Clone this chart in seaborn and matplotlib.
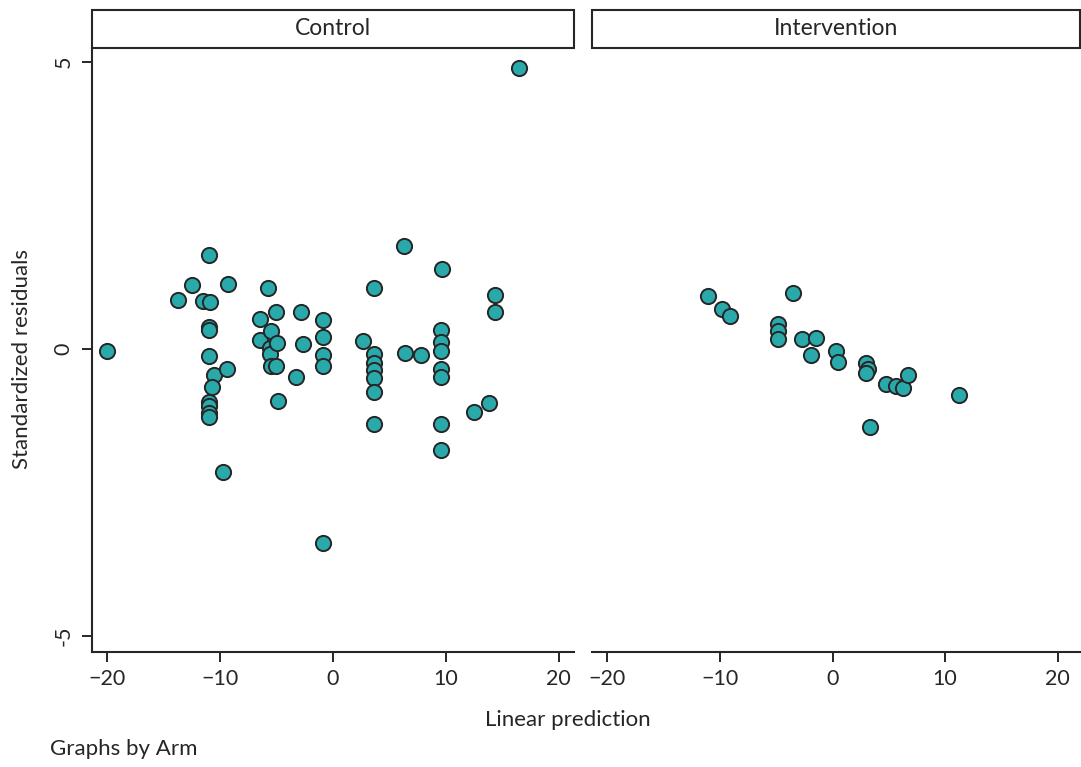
import matplotlib
matplotlib.use("Agg")
import matplotlib.pyplot as plt
from matplotlib.patches import Rectangle
import numpy as np
import pandas as pd
import seaborn as sns

# Linear predictions and standardized residuals, Control arm
control_pred = [
    -19.94, -13.69, -12.48, -10.95, -11.48, -10.88, -10.97, -10.97, -10.95, -10.53,
    -10.71, -10.95, -10.95, -10.95, -10.95, -9.38, -9.23, -9.73, -6.40, -5.75,
    -6.43, -5.49, -5.58, -5.58, -5.49, -4.98, -4.96, -4.98, -4.81, -3.25,
    -2.77, -2.65, -0.82, -0.82, -0.82, -0.82, -0.88, 2.68, 3.63, 3.63,
    3.63, 3.63, 3.63, 3.63, 3.63, 6.31, 6.40, 7.79, 9.65, 9.62,
    9.62, 9.62, 9.62, 9.62, 9.62, 9.62, 12.54, 13.87, 14.36, 14.36,
    16.46,
]
control_resid = [
    -0.04, 0.85, 1.11, 1.64, 0.84, 0.82, 0.38, 0.33, -0.13, -0.46,
    -0.67, -0.93, -0.99, -1.11, -1.19, -0.34, 1.14, -2.15, 0.52, 1.06,
    0.16, 0.31, 0.01, -0.09, -0.29, 0.64, 0.10, -0.29, -0.90, -0.49,
    0.65, 0.09, 0.50, 0.21, -0.10, -0.29, -3.38, 0.14, 1.07, -0.09,
    -0.25, -0.37, -0.51, -0.75, -1.30, 1.80, -0.07, -0.10, 1.39, 0.33,
    0.12, -0.03, -0.35, -0.48, -1.30, -1.76, -1.09, -0.94, 0.94, 0.64,
    4.90,
]

# Linear predictions and standardized residuals, Intervention arm
interv_pred = [
    -11.04, -9.80, -9.14, -3.48, -4.81, -4.81, -4.81, -2.72, -1.44, -1.88,
    0.35, 0.53, 2.98, 3.19, 2.95, 4.72, 5.66, 6.26, 6.70, 11.21,
    3.30,
]
interv_resid = [
    0.93, 0.70, 0.58, 0.98, 0.43, 0.31, 0.17, 0.17, 0.20, -0.10,
    -0.03, -0.23, -0.24, -0.35, -0.41, -0.61, -0.64, -0.68, -0.46, -0.80,
    -1.36,
]

arms = ["Control", "Intervention"]
x_ticks = [-20, -10, 0, 10, 20]
y_ticks = [-5, 0, 5]

df = pd.DataFrame({
    "pred": control_pred + interv_pred,
    "resid": control_resid + interv_resid,
    "Arm": [arms[0]] * len(control_pred) + [arms[1]] * len(interv_pred),
})

sns.set_theme(style="white")
plt.rcParams["font.family"] = ["Lato", "DejaVu Sans"]
plt.rcParams["axes.unicode_minus"] = True

ink = "#262626"
g = sns.FacetGrid(df, col="Arm", col_order=arms, sharex=False, sharey=True,
                  height=5, aspect=1.0)
g.map_dataframe(sns.scatterplot, x="pred", y="resid", color="#2aa9ab",
                s=120, edgecolor=ink, linewidth=1.4, zorder=3)

fig = g.figure
fig.set_size_inches(10.81, 7.67)
fig.set_dpi(100)

W, H = 1081.0, 767.0
bottom = (H - 652) / H
height = (652 - 47.7) / H
positions = [
    [91.5 / W, bottom, (574 - 91.5) / W, height],
    [592 / W, bottom, (1080 - 592) / W, height],
]
x_limits = [(-21.35, 21.37), (-21.36, 21.98)]
strip_h = 37.7 / (652 - 47.7)

for i, ax in enumerate(g.axes.flat):
    ax.set_position(positions[i])
    ax.set_xlim(*x_limits[i])
    ax.set_ylim(-5.28, 5.25)
    ax.set_title("")
    ax.set_xlabel("")
    ax.set_ylabel("")
    ax.set_xticks(x_ticks)
    ax.set_xticklabels([f"{t}".replace("-", "\u2212") for t in x_ticks])
    ax.tick_params(axis="x", direction="out", length=7, width=1.4,
                   color=ink, labelsize=15.5, labelcolor=ink, pad=5,
                   bottom=True)
    for side in ["top", "right"]:
        ax.spines[side].set_visible(False)
    ax.spines["bottom"].set_color(ink)
    ax.spines["bottom"].set_linewidth(1.5)
    if i == 0:
        ax.set_yticks(y_ticks)
        ax.set_yticklabels([str(t) for t in y_ticks], rotation=90, va="center")
        ax.tick_params(axis="y", direction="out", length=7, width=1.4,
                       color=ink, labelsize=15.5, labelcolor=ink, pad=6,
                       left=True)
        ax.spines["left"].set_color(ink)
        ax.spines["left"].set_linewidth(1.5)
    else:
        ax.spines["left"].set_visible(False)
        ax.tick_params(axis="y", left=False, labelleft=False)
    ax.grid(False)
    # facet header box
    rect = Rectangle((0, 1.0), 1.0, strip_h, transform=ax.transAxes,
                     facecolor="white", edgecolor=ink, linewidth=1.5,
                     clip_on=False, zorder=5)
    ax.add_patch(rect)
    ax.text(0.5, 1.0 + strip_h / 2, arms[i], transform=ax.transAxes,
            ha="center", va="center", fontsize=16.5, color=ink, zorder=6)

fig.text(22 / W, 1 - 359 / H, "Standardized residuals", rotation=90,
         ha="center", va="center", fontsize=16, color=ink)
fig.text(568 / W, 1 - 720 / H, "Linear prediction", ha="center",
         va="center", fontsize=16, color=ink)
fig.text(50 / W, 1 - 749 / H, "Graphs by Arm", ha="left", va="center",
         fontsize=16, color=ink)

fig.savefig("out.png", dpi=100, facecolor="white")
